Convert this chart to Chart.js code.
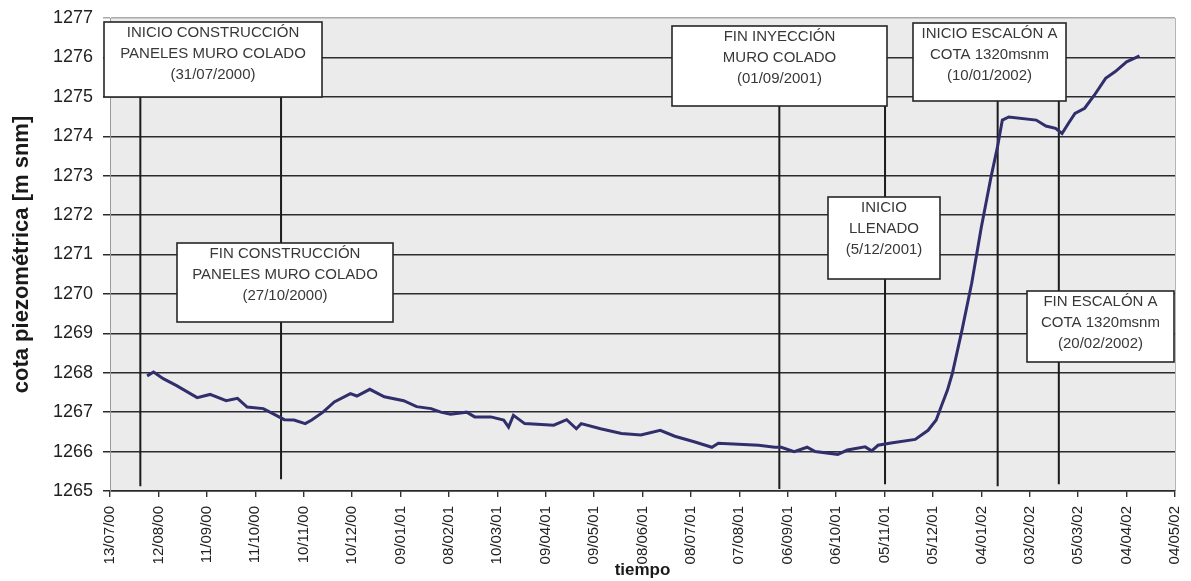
<!DOCTYPE html>
<html>
<head>
<meta charset="utf-8">
<script src="https://cdn.jsdelivr.net/npm/chart.js@4.4.1/dist/chart.umd.min.js"></script>
<style>
  body { margin: 0; background: #fff; }
</style>
</head>
<body>
<canvas id="myChart" width="1191" height="581"></canvas>
<script>
// x values are days counted from 13/07/2000 (first tick), ticks every 30 days
var tickLabels = ['13/07/00', '12/08/00', '11/09/00', '11/10/00', '10/11/00', '10/12/00',
    '09/01/01', '08/02/01', '10/03/01', '09/04/01', '09/05/01', '08/06/01', '08/07/01',
    '07/08/01', '06/09/01', '06/10/01', '05/11/01', '05/12/01', '04/01/02', '03/02/02',
    '05/03/02', '04/04/02', '04/05/02'];

var dias = [23, 27, 33, 41, 54, 62, 72, 79, 85, 95, 103, 108, 114, 121, 125, 132, 139, 149, 153,
    161, 170, 182, 190, 199, 205, 211, 221, 226, 236, 244, 247, 250, 257, 275, 283, 289, 292,
    304, 317, 329, 341, 350, 362, 373, 377, 402, 412, 416, 424, 432, 437, 451, 457, 468, 472,
    476, 484, 499, 507, 512, 515, 519, 522, 528, 534, 540, 546, 550, 553, 557, 574, 580, 586,
    590, 594, 598, 604, 610, 617, 623, 630, 635, 638];
var cota = [1267.92, 1268.02, 1267.85, 1267.68, 1267.37, 1267.45, 1267.29, 1267.35, 1267.13,
    1267.09, 1266.92, 1266.81, 1266.80, 1266.71, 1266.80, 1267.00, 1267.26, 1267.47, 1267.41,
    1267.58, 1267.39, 1267.29, 1267.14, 1267.09, 1267.00, 1266.95, 1267.00, 1266.88, 1266.88,
    1266.80, 1266.62, 1266.92, 1266.71, 1266.67, 1266.81, 1266.58, 1266.71, 1266.58, 1266.46,
    1266.42, 1266.54, 1266.39, 1266.25, 1266.11, 1266.21, 1266.16, 1266.11, 1266.11, 1266.00,
    1266.11, 1266.00, 1265.93, 1266.04, 1266.12, 1266.02, 1266.16, 1266.22, 1266.31, 1266.54,
    1266.80, 1267.13, 1267.56, 1267.98, 1269.08, 1270.27, 1271.70, 1272.97, 1273.73, 1274.41,
    1274.49, 1274.41, 1274.26, 1274.20, 1274.07, 1274.33, 1274.58, 1274.71, 1275.04, 1275.47,
    1275.64, 1275.89, 1275.98, 1276.04];

// event markers (vertical lines)
var eventoDia = [18.8, 106, 414.8, 480.3, 550.1, 588];
var eventoTope = [1275, 1275, 1274.9, 1274.9, 1274.9, 1274.9];
var eventoBase = [1265.12, 1265.3, 1265.05, 1265.17, 1265.12, 1265.17];
var eventoTexto = [
    ['INICIO CONSTRUCCIÓN', 'PANELES MURO COLADO', '(31/07/2000)'],
    ['FIN CONSTRUCCIÓN', 'PANELES MURO COLADO', '(27/10/2000)'],
    ['FIN INYECCIÓN', 'MURO COLADO', '(01/09/2001)'],
    ['INICIO', 'LLENADO', '(5/12/2001)'],
    ['INICIO ESCALÓN A', 'COTA 1320msnm', '(10/01/2002)'],
    ['FIN ESCALÓN A', 'COTA 1320msnm', '(20/02/2002)']
];

// box placement in axis units: [x0, x1, yTop, yBottom]
var cajas = [
    [-3.5, 131.6, 1276.9, 1275.0],
    [41.7, 175.5, 1271.29, 1269.28],
    [348.4, 481.5, 1276.8, 1274.77],
    [445, 514.4, 1272.46, 1270.38],
    [497.6, 592.4, 1276.87, 1274.89],
    [568.2, 659.3, 1270.07, 1268.27]
];

var FONT = "'Liberation Sans', Arial, sans-serif";

var fondoPlugin = {
    id: 'fondo',
    beforeDraw: function(chart) {
        var a = chart.chartArea, c = chart.ctx;
        c.save();
        c.fillStyle = '#ecebec';
        c.fillRect(a.left, a.top, a.right - a.left, a.bottom - a.top);
        c.strokeStyle = '#b5b5b5';
        c.lineWidth = 1;
        c.beginPath();
        c.moveTo(a.right + 0.5, a.top);
        c.lineTo(a.right + 0.5, a.bottom);
        c.stroke();
        c.restore();
    }
};

var cajasPlugin = {
    id: 'cajas',
    afterDatasetsDraw: function(chart) {
        var c = chart.ctx, sx = chart.scales.x, sy = chart.scales.y;
        c.save();
        cajas.forEach(function(b, i) {
            var x0 = Math.round(sx.getPixelForValue(b[0])), x1 = Math.round(sx.getPixelForValue(b[1]));
            var y0 = Math.round(sy.getPixelForValue(b[2])), y1 = Math.round(sy.getPixelForValue(b[3]));
            c.fillStyle = '#ffffff';
            c.fillRect(x0, y0, x1 - x0, y1 - y0);
            c.strokeStyle = '#262626';
            c.lineWidth = 1.6;
            c.strokeRect(x0, y0, x1 - x0, y1 - y0);
            c.fillStyle = '#383838';
            c.font = '15px ' + FONT;
            c.textAlign = 'center';
            c.textBaseline = 'middle';
            eventoTexto[i].forEach(function(t, k) {
                c.fillText(t, (x0 + x1) / 2, y0 + 11 + k * 20.7);
            });
        });
        c.restore();
    }
};

var datasets = [{
    label: 'cota',
    data: dias.map(function(d, i) { return {x: d, y: cota[i]}; }),
    borderColor: '#302f6c',
    borderWidth: 3,
    pointRadius: 0,
    tension: 0
}];
eventoDia.forEach(function(d, i) {
    datasets.push({
        label: 'evento ' + (i + 1),
        data: [{x: d, y: eventoTope[i]}, {x: d, y: eventoBase[i]}],
        borderColor: '#1c1c1c',
        borderWidth: 2,
        pointRadius: 0
    });
});

var ctx = document.getElementById('myChart').getContext('2d');
var chart = new Chart(ctx, {
    type: 'line',
    data: { datasets: datasets },
    plugins: [fondoPlugin, cajasPlugin],
    options: {
        responsive: false,
        animation: false,
        layout: { padding: { top: 18, right: 16, left: 0, bottom: 0 } },
        plugins: { legend: { display: false }, tooltip: { enabled: false } },
        scales: {
            x: {
                type: 'linear',
                min: 0,
                max: 660,
                afterFit: function(scale) {
                    scale.height = 90;
                    scale.paddingLeft = 0;
                    scale.paddingRight = 0;
                },
                ticks: {
                    stepSize: 30,
                    autoSkip: false,
                    maxRotation: 90,
                    minRotation: 90,
                    padding: 9,
                    color: '#222',
                    font: { family: FONT, size: 15 },
                    callback: function(v) { return tickLabels[Math.round(v / 30)]; }
                },
                grid: { drawOnChartArea: false, drawTicks: true, tickLength: 6, color: '#333', lineWidth: 1.4 },
                border: { color: '#2a2a2a', width: 1.5 },
                title: {
                    display: true,
                    text: 'tiempo',
                    color: '#1a1a1a',
                    font: { family: FONT, size: 17, weight: 'bold' },
                    padding: { top: 0, bottom: 0 }
                }
            },
            y: {
                min: 1265,
                max: 1277,
                afterFit: function(scale) {
                    scale.width = 110;
                    scale.paddingTop = 0;
                    scale.paddingBottom = 0;
                },
                ticks: {
                    stepSize: 1,
                    padding: 10,
                    color: '#222',
                    font: { family: FONT, size: 18 },
                    callback: function(v) { return String(v); }
                },
                grid: {
                    tickLength: 7,
                    lineWidth: 1.5,
                    color: function(c) { return c.tick && c.tick.value === 1277 ? '#a9a9a9' : '#2b2b30'; }
                },
                border: { color: '#9a9a9a', width: 1 },
                title: {
                    display: true,
                    text: 'cota piezométrica [m snm]',
                    color: '#1a1a1a',
                    font: { family: FONT, size: 22, weight: 'bold' },
                    padding: { top: 9, bottom: 0 }
                }
            }
        }
    }
});
</script>
</body>
</html>
